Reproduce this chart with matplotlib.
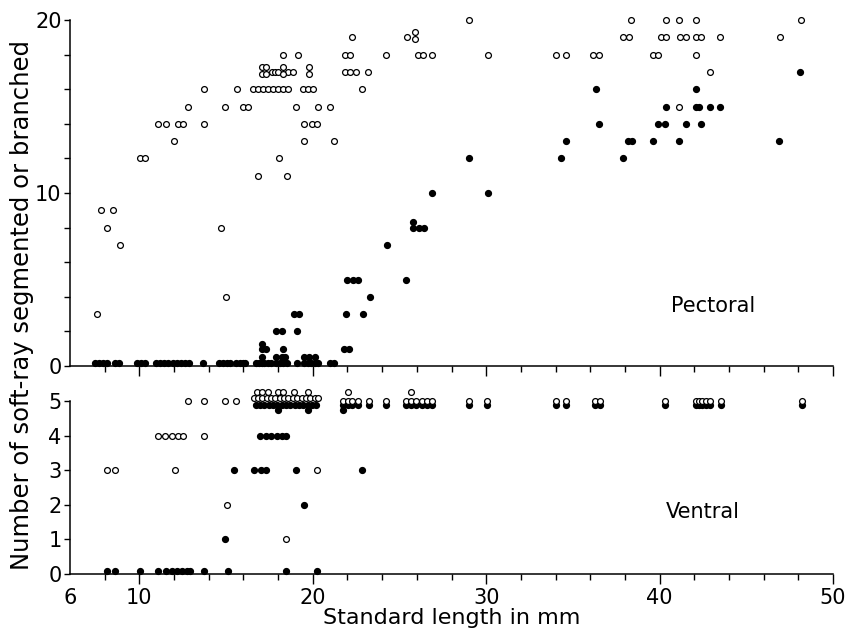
import matplotlib.pyplot as plt
from matplotlib.ticker import MultipleLocator

# soft-ray counts vs standard length (mm)
# each entry: (number of rays, [standard lengths])
# open circles = segmented, filled circles = branched

pect_open = [
    (20, [29.0, 38.33, 40.35, 41.12, 42.12, 48.17]),
    (19, [22.24, 25.41, 37.89, 38.24, 40.1, 40.35, 41.16, 41.5, 42.12, 42.41, 43.46, 46.92]),
    (19.3, [25.9]),
    (18.9, [25.9]),
    (18, [18.26, 19.16, 21.85, 22.14, 24.25, 26.07, 26.36, 26.9, 30.11, 34.05, 34.59,
          36.16, 36.51, 39.62, 39.91, 42.12]),
    (17.3, [17.05, 17.33, 18.29, 19.79]),
    (17, [17.62, 17.82, 18.0, 18.58, 18.87, 21.85, 22.14, 22.52, 23.19, 42.89]),
    (16.9, [17.05, 17.33, 18.29, 19.79]),
    (16, [13.74, 15.61, 16.56, 16.85, 17.14, 17.43, 17.72, 18.0, 18.29, 18.58, 19.45,
          19.74, 20.03, 22.81]),
    (15, [12.83, 14.93, 15.99, 16.27, 19.06, 20.29, 21.01, 41.12]),
    (14, [11.09, 11.51, 12.24, 12.53, 13.74, 19.49, 19.97, 20.25]),
    (13, [12.01, 19.49, 21.25]),
    (12, [10.03, 10.32, 18.06]),
    (11, [16.85, 18.52]),
    (9, [7.79, 8.5]),
    (8, [8.15, 14.7]),
    (7, [8.88]),
    (4, [14.99]),
    (3, [7.54]),
]

pect_filled = [
    (0.2, [7.44, 7.67, 7.92, 8.15, 8.59, 8.84, 9.84, 10.07, 10.3, 10.94, 11.19, 11.42,
           11.67, 11.92, 12.15, 12.4, 12.65, 12.86, 13.68, 14.62, 14.85, 15.05, 15.22,
           15.57, 15.8, 16.0, 16.12, 16.7, 16.9, 17.05, 17.2, 17.4, 17.6, 17.9, 18.1,
           18.3, 18.5, 19.1, 19.5, 19.7, 19.9, 20.1, 20.3, 21.0, 21.2]),
    (0.5, [17.1, 17.9, 18.2, 18.4, 19.5, 19.8, 20.1]),
    (1, [17.1, 17.3, 18.3, 21.8, 22.1]),
    (1.3, [17.1]),
    (2, [17.9, 18.2, 19.1]),
    (3, [18.9, 19.2, 21.9, 22.9]),
    (4, [23.3]),
    (5, [22.0, 22.3, 22.6, 25.4]),
    (7, [24.3]),
    (8, [25.8, 26.1, 26.4]),
    (8.3, [25.8]),
    (10, [26.9, 30.1]),
    (12, [29.0, 34.3, 37.9]),
    (13, [34.6, 38.2, 38.4, 39.6, 41.1, 46.9]),
    (14, [36.5, 39.9, 40.3, 41.5, 42.4]),
    (15, [40.35, 42.1, 42.3, 42.9, 43.5]),
    (16, [36.36, 42.12]),
    (17, [48.1]),
]

vent_open = [
    (5.25, [16.8, 17.1, 17.4, 18.0, 18.3, 18.9, 19.7, 22.04, 25.69]),
    (5.08, [16.6, 16.85, 17.1, 17.35, 17.6, 17.85, 18.1, 18.35, 18.6, 18.85, 19.1,
            19.35, 19.6, 19.85, 20.1, 20.3]),
    (5, [12.82, 13.72, 14.93, 15.55, 21.75, 22.04, 22.24, 22.62, 23.25, 24.25, 25.37,
         25.69, 25.98, 26.27, 26.56, 26.88, 29.0, 30.05, 34.05, 34.59, 36.26, 36.55,
         40.29, 42.08, 42.27, 42.47, 42.7, 42.92, 43.56, 48.23]),
    (4, [11.09, 11.47, 11.86, 12.24, 12.53, 13.72]),
    (3, [8.15, 8.59, 12.05, 20.25]),
    (2, [15.08]),
    (1, [18.48]),
]

vent_filled = [
    (4.87, [16.7, 16.95, 17.2, 17.45, 17.7, 17.95, 18.2, 18.45, 18.7, 18.95, 19.2, 19.45,
            19.7, 19.95, 20.2, 21.75, 22.04, 22.24, 22.62, 23.25, 24.25, 25.37, 25.69,
            25.98, 26.27, 26.56, 26.88, 29.0, 30.05, 34.05, 34.59, 36.26, 36.55, 40.29,
            42.08, 42.27, 42.47, 42.7, 42.92, 43.56, 48.23]),
    (4.75, [18.0, 19.7, 21.75]),
    (4, [16.95, 17.28, 17.57, 17.91, 18.2, 18.48]),
    (3, [15.47, 16.6, 16.99, 17.28, 19.03, 22.85]),
    (2, [19.49]),
    (1, [14.93]),
    (0.1, [8.15, 8.59, 10.03, 11.09, 11.51, 11.86, 12.15, 12.44, 12.72, 12.92, 13.72,
           15.12, 18.48, 20.25]),
]


def unpack(levels):
    xs = []; ys = []
    for yy, lens in levels:
        xs += lens
        ys += [yy] * len(lens)
    return xs, ys


fig = plt.figure(figsize=(8.52, 6.34), dpi=100)
ax1 = fig.add_axes([70/852, 1-366/634, 763/852, 346/634])
ax2 = fig.add_axes([70/852, 1-574/634, 763/852, 173/634])

for ax, opn, fil in [(ax1, pect_open, pect_filled), (ax2, vent_open, vent_filled)]:
    x, y = unpack(fil)
    ax.plot(x, y, 'o', color='black', ms=4.2, clip_on=False, zorder=3)
    x, y = unpack(opn)
    ax.plot(x, y, 'o', mfc='white', mec='black', ms=4.2, mew=0.9, clip_on=False, zorder=4)
    ax.set_xlim(6, 50)
    ax.spines['top'].set_visible(False)
    ax.spines['right'].set_visible(False)
    ax.spines['left'].set_linewidth(1.1)
    ax.spines['bottom'].set_linewidth(1.1)
    ax.set_xticks([6, 10, 20, 30, 40, 50])
    ax.xaxis.set_minor_locator(MultipleLocator(2))
    ax.tick_params(axis='x', which='major', direction='out', length=7, width=1, pad=3, labelsize=15)
    ax.tick_params(axis='x', which='minor', direction='out', length=4, width=1)
    ax.tick_params(axis='y', which='both', direction='out', length=4, width=1, pad=2, labelsize=15)
    ax.xaxis.get_major_ticks()[0].tick1line.set_visible(False)

ax1.set_ylim(0, 20)
ax1.set_yticks([0, 10, 20])
ax1.yaxis.set_minor_locator(MultipleLocator(2))
ax1.tick_params(axis='x', labelbottom=False)
ax1.text(43.06, 3.47, 'Pectoral', fontsize=15, ha='center', va='center')

ax2.set_ylim(0, 5)
ax2.set_yticks([0, 1, 2, 3, 4, 5])
ax2.text(42.5, 1.79, 'Ventral', fontsize=15, ha='center', va='center')
ax2.set_xlabel('Standard length in mm', fontsize=16, labelpad=0)

fig.text(22/852, 1-305/634, 'Number of soft-ray segmented or branched',
         rotation=90, fontsize=17.5, ha='center', va='center')

fig.savefig('out.png', dpi=100)
